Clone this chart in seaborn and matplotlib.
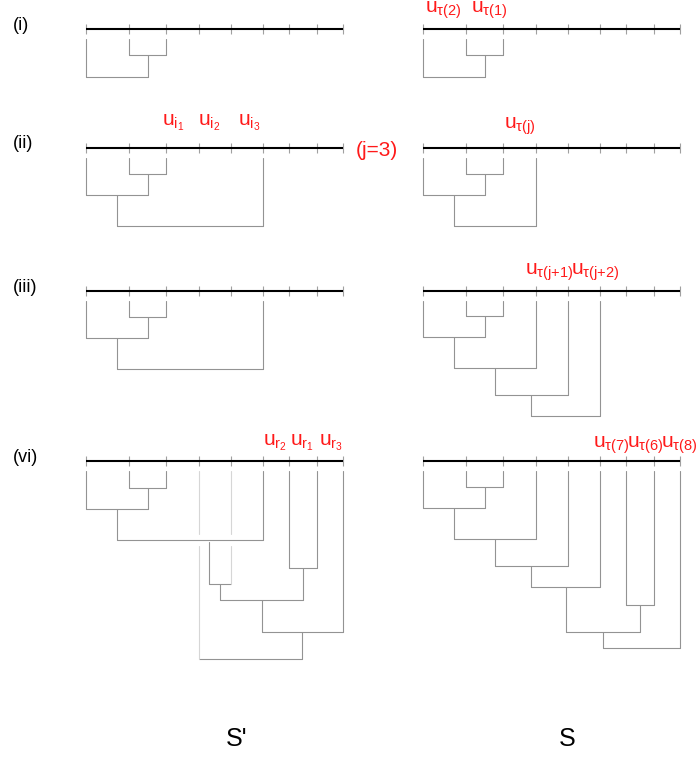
import numpy as np
import pandas as pd
import matplotlib
matplotlib.use("Agg")
import matplotlib.pyplot as plt
import seaborn as sns

# leaf positions along each axis (left panel S'), right panel S is shifted
leaf_pos = [86, 129, 166, 199, 231, 263, 289, 317, 343]
panel_shift = {'L': 0, 'R': 337}
rows = ['i', 'ii', 'iii', 'vi']
row_y = [29, 148, 291, 461]
row_names = ['(i)', '(ii)', '(iii)', '(vi)']

# merges: (child a, child b, depth below axis); ints are leaves, 'nK' is the K-th merge
merges = {
    ('i', 'L'): [(1, 2, 26), (0, 'n0', 48)],
    ('i', 'R'): [(1, 2, 26), (0, 'n0', 48)],
    ('ii', 'L'): [(1, 2, 26), (0, 'n0', 47), ('n1', 5, 78)],
    ('ii', 'R'): [(1, 2, 26), (0, 'n0', 47), ('n1', 3, 78)],
    ('iii', 'L'): [(1, 2, 26), (0, 'n0', 47), ('n1', 5, 78)],
    ('iii', 'R'): [(1, 2, 25), (0, 'n0', 46), ('n1', 3, 77), ('n2', 4, 104), ('n3', 5, 125)],
    ('vi', 'L'): [(1, 2, 27), (0, 'n0', 48), ('n1', 5, 79), ('s0', 4, 123), (6, 7, 107),
                  ('n3', 'n4', 139), ('n5', 8, 171), (3, 'n6', 198)],
    ('vi', 'R'): [(1, 2, 26), (0, 'n0', 47), ('n1', 3, 78), ('n2', 4, 105), ('n3', 5, 126),
                  (6, 7, 144), ('n4', 'n5', 171), ('n6', 8, 187)],
}
# a hanging stub (x, top depth) in S' (vi)
stubs = {('vi', 'L'): {'s0': (209, 81)}}
faint_leaves = {('vi', 'L'): [3, 4]}

labels = [
    ('i', 'R', r'$u_{\tau(2)}$', 425, 13),
    ('i', 'R', r'$u_{\tau(1)}$', 471, 13),
    ('ii', 'L', r'$u_{i_1}$', 162, 125),
    ('ii', 'L', r'$u_{i_2}$', 198, 125),
    ('ii', 'L', r'$u_{i_3}$', 238, 125),
    ('ii', 'R', r'$u_{\tau(j)}$', 504, 129),
    ('iii', 'R', r'$u_{\tau(j{+}1)}$', 525, 275),
    ('iii', 'R', r'$u_{\tau(j{+}2)}$', 571, 275),
    ('vi', 'L', r'$u_{r_2}$', 263, 445),
    ('vi', 'L', r'$u_{r_1}$', 290, 445),
    ('vi', 'L', r'$u_{r_3}$', 319, 445),
    ('vi', 'R', r'$u_{\tau(7)}$', 593, 448),
    ('vi', 'R', r'$u_{\tau(6)}$', 627, 448),
    ('vi', 'R', r'$u_{\tau(8)}$', 661, 448),
]

leg_gap = 9.5   # space between axis and leaf lines
cross_gap = 6   # break in a line crossed by a bar


def tree_segments(key, y0, shift):
    pos = {}
    top = {}
    for i, p in enumerate(leaf_pos):
        pos[i] = p + shift
        top[i] = leg_gap
    for s, (sx, st) in stubs.get(key, {}).items():
        pos[s] = sx + shift
        top[s] = st
    legs, bars = [], []
    for k, (a, b, h) in enumerate(merges[key]):
        legs.append((pos[a], top[a], h, a))
        legs.append((pos[b], top[b], h, b))
        bars.append((pos[a], pos[b], h))
        pos['n%d' % k] = (pos[a] + pos[b]) / 2
        top['n%d' % k] = h
    segs = []
    faint = faint_leaves.get(key, [])
    for x, t, h, c in legs:
        cuts = sorted(bh for (xa, xb, bh) in bars
                      if min(xa, xb) < x < max(xa, xb) and t < bh < h)
        shade = 'faint' if c in faint else 'norm'
        start = t
        for bh in cuts:
            segs.append(([x, x], [y0 + start, y0 + bh - cross_gap], shade))
            start = bh + cross_gap
        segs.append(([x, x], [y0 + start, y0 + h], shade))
    for xa, xb, h in bars:
        segs.append(([xa, xb], [y0 + h, y0 + h], 'norm'))
    return segs


records = []
sid = 0
for r, y0 in zip(rows, row_y):
    for side in ['L', 'R']:
        for xs, ys, shade in tree_segments((r, side), y0, panel_shift[side]):
            for x, y in zip(xs, ys):
                records.append({'x': x, 'y': y, 'seg': sid, 'shade': shade})
            sid += 1
df = pd.DataFrame(records)

sns.set_style('white')
plt.rcParams['font.family'] = ['Liberation Sans', 'DejaVu Sans']
plt.rcParams['mathtext.fontset'] = 'custom'
plt.rcParams['mathtext.rm'] = 'Liberation Sans'
plt.rcParams['mathtext.it'] = 'Liberation Sans'
plt.rcParams['mathtext.default'] = 'regular'

fig = plt.figure(figsize=(6.98, 7.6), dpi=100)
ax = fig.add_axes([0, 0, 1, 1])

sns.lineplot(data=df, x='x', y='y', units='seg', estimator=None, sort=False,
             hue='shade', palette={'norm': '#939393', 'faint': '#d6d6d6'},
             linewidth=0.8, legend=False, ax=ax)

# the axes with ticks
for y0 in row_y:
    for side in ['L', 'R']:
        xs = np.array(leaf_pos) + panel_shift[side]
        ax.vlines(xs, y0 - 5, y0 + 5, color='#a0a0a0', lw=0.8, zorder=3)
        ax.hlines(y0, xs[0], xs[-1], color='black', lw=1.5, zorder=4)

for name, y0 in zip(row_names, row_y):
    ax.text(13, y0 - 4, name, fontsize=13, color='black', ha='left', va='center')

for r, side, txt, x, yb in labels:
    ax.text(x, yb, txt, color='#ff1a1a', fontsize=15, ha='left', va='baseline')

ax.text(356, 150, '(j=3)', color='#ff1a1a', fontsize=15, ha='left', va='center')
ax.text(237, 746, "S'", fontsize=18, color='black', ha='center', va='baseline')
ax.text(567, 746, 'S', fontsize=18, color='black', ha='center', va='baseline')

ax.set_xlim(0, 698)
ax.set_ylim(760, 0)
ax.axis('off')
fig.savefig('out.png', dpi=100)
